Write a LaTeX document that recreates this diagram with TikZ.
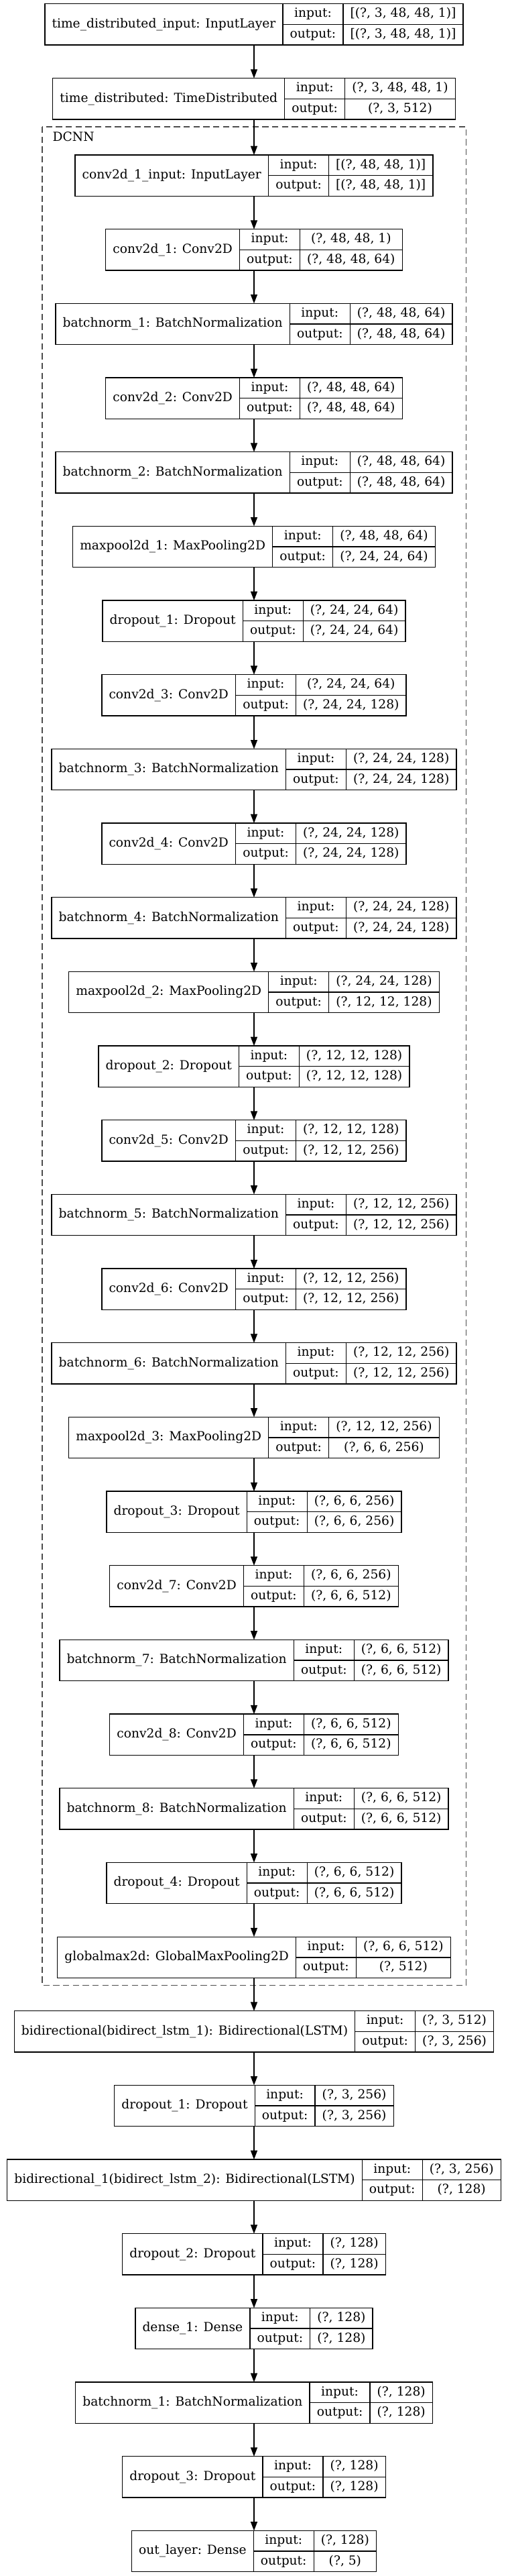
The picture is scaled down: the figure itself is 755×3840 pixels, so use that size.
\documentclass[tikz,border=0pt]{standalone}
\usepackage{fontspec}
\setmainfont{DejaVu Serif}
\usepackage{tikz}
\usetikzlibrary{arrows.meta}

\newcommand{\recfont}{\fontsize{14}{16.8}\selectfont}
\newlength{\labw}
\newlength{\keyw}
\newlength{\shpw}
\newlength{\tmpw}

% one keras layer: name, centre y, layer text, input shape, output shape
\newcommand{\layer}[5]{%
  \pgfinterruptpicture
    \settowidth{\labw}{\recfont #3}%
    \settowidth{\shpw}{\recfont #4}%
    \settowidth{\tmpw}{\recfont #5}%
    \ifdim\tmpw>\shpw\setlength{\shpw}{\tmpw}\fi
    \settowidth{\keyw}{\recfont output:}%
    \addtolength{\labw}{16pt}%
    \addtolength{\keyw}{16pt}%
    \addtolength{\shpw}{16pt}%
    \setlength{\tmpw}{\dimexpr\labw+\keyw+\shpw\relax}%
    \global\labw=\labw \global\keyw=\keyw
    \global\shpw=\shpw \global\tmpw=\tmpw
  \endpgfinterruptpicture
  \node[record, minimum width=\tmpw] (#1) at (379, #2) {};
  \node[field, minimum width=\labw, minimum height=46pt, anchor=west] (#1-l) at (#1.west) {#3};
  \node[field, minimum width=\keyw, anchor=north west] (#1-ik) at (#1-l.north east) {input:};
  \node[field, minimum width=\keyw, anchor=north] (#1-ok) at (#1-ik.south) {output:};
  \node[field, minimum width=\shpw, anchor=north west] (#1-iv) at (#1-ik.north east) {#4};
  \node[field, minimum width=\shpw, anchor=north] (#1-ov) at (#1-iv.south) {#5};
}

\begin{document}
\begin{tikzpicture}[x=0.75pt, y=-0.75pt, line width=1pt, font=\recfont,
  record/.style={rectangle, inner sep=0pt, outer sep=0pt, minimum height=46pt},
  field/.style={draw, rectangle, inner sep=0pt, outer sep=0pt, minimum height=23pt,
                text height=10.5pt, text depth=3.3pt},
  edge/.style={-{Triangle[length=10pt, width=7.5pt]}},
  cluster/.style={draw=black!70, dash pattern=on 7pt off 4pt}]

\useasboundingbox (0, 0) rectangle (755, 3840);

% draw DCNN cluster
\draw[cluster] (63, 189) rectangle (695.5, 2959.3);
\node[anchor=base west] (dcnn) at (73.6, 210) {DCNN};

% draw input layers
\layer{inlayer}{36.3}{time\_distributed\_input: InputLayer}{[(?, 3, 48, 48, 1)]}{[(?, 3, 48, 48, 1)]}
\layer{tdist}{147.3}{time\_distributed: TimeDistributed}{(?, 3, 48, 48, 1)}{(?, 3, 512)}

% draw DCNN layers
\layer{cin}{261.7}{conv2d\_1\_input: InputLayer}{[(?, 48, 48, 1)]}{[(?, 48, 48, 1)]}
\layer{conva}{372.4}{conv2d\_1: Conv2D}{(?, 48, 48, 1)}{(?, 48, 48, 64)}
\layer{bna}{483.0}{batchnorm\_1: BatchNormalization}{(?, 48, 48, 64)}{(?, 48, 48, 64)}
\layer{convb}{593.7}{conv2d\_2: Conv2D}{(?, 48, 48, 64)}{(?, 48, 48, 64)}
\layer{bnb}{704.4}{batchnorm\_2: BatchNormalization}{(?, 48, 48, 64)}{(?, 48, 48, 64)}
\layer{poola}{815.1}{maxpool2d\_1: MaxPooling2D}{(?, 48, 48, 64)}{(?, 24, 24, 64)}
\layer{dropa}{925.7}{dropout\_1: Dropout}{(?, 24, 24, 64)}{(?, 24, 24, 64)}
\layer{convc}{1036.4}{conv2d\_3: Conv2D}{(?, 24, 24, 64)}{(?, 24, 24, 128)}
\layer{bnc}{1147.1}{batchnorm\_3: BatchNormalization}{(?, 24, 24, 128)}{(?, 24, 24, 128)}
\layer{convd}{1257.7}{conv2d\_4: Conv2D}{(?, 24, 24, 128)}{(?, 24, 24, 128)}
\layer{bnd}{1368.4}{batchnorm\_4: BatchNormalization}{(?, 24, 24, 128)}{(?, 24, 24, 128)}
\layer{poolb}{1479.1}{maxpool2d\_2: MaxPooling2D}{(?, 24, 24, 128)}{(?, 12, 12, 128)}
\layer{dropb}{1589.7}{dropout\_2: Dropout}{(?, 12, 12, 128)}{(?, 12, 12, 128)}
\layer{conve}{1700.4}{conv2d\_5: Conv2D}{(?, 12, 12, 128)}{(?, 12, 12, 256)}
\layer{bne}{1811.1}{batchnorm\_5: BatchNormalization}{(?, 12, 12, 256)}{(?, 12, 12, 256)}
\layer{convf}{1921.8}{conv2d\_6: Conv2D}{(?, 12, 12, 256)}{(?, 12, 12, 256)}
\layer{bnf}{2032.4}{batchnorm\_6: BatchNormalization}{(?, 12, 12, 256)}{(?, 12, 12, 256)}
\layer{poolc}{2143.1}{maxpool2d\_3: MaxPooling2D}{(?, 12, 12, 256)}{(?, 6, 6, 256)}
\layer{dropc}{2253.8}{dropout\_3: Dropout}{(?, 6, 6, 256)}{(?, 6, 6, 256)}
\layer{convg}{2364.4}{conv2d\_7: Conv2D}{(?, 6, 6, 256)}{(?, 6, 6, 512)}
\layer{bng}{2475.1}{batchnorm\_7: BatchNormalization}{(?, 6, 6, 512)}{(?, 6, 6, 512)}
\layer{convh}{2585.8}{conv2d\_8: Conv2D}{(?, 6, 6, 512)}{(?, 6, 6, 512)}
\layer{bnh}{2696.4}{batchnorm\_8: BatchNormalization}{(?, 6, 6, 512)}{(?, 6, 6, 512)}
\layer{dropd}{2807.1}{dropout\_4: Dropout}{(?, 6, 6, 512)}{(?, 6, 6, 512)}
\layer{gpool}{2917.8}{globalmax2d: GlobalMaxPooling2D}{(?, 6, 6, 512)}{(?, 512)}

% draw recurrent head
\layer{lstma}{3028.4}{bidirectional(bidirect\_lstm\_1): Bidirectional(LSTM)}{(?, 3, 512)}{(?, 3, 256)}
\layer{hdropa}{3139.0}{dropout\_1: Dropout}{(?, 3, 256)}{(?, 3, 256)}
\layer{lstmb}{3249.7}{bidirectional\_1(bidirect\_lstm\_2): Bidirectional(LSTM)}{(?, 3, 256)}{(?, 128)}
\layer{hdropb}{3360.4}{dropout\_2: Dropout}{(?, 128)}{(?, 128)}
\layer{dense}{3471.1}{dense\_1: Dense}{(?, 128)}{(?, 128)}
\layer{hbn}{3581.7}{batchnorm\_1: BatchNormalization}{(?, 128)}{(?, 128)}
\layer{hdropc}{3692.4}{dropout\_3: Dropout}{(?, 128)}{(?, 128)}
\layer{outlayer}{3803.1}{out\_layer: Dense}{(?, 128)}{(?, 5)}

% draw connectors
\draw[edge] (inlayer) -- (tdist);
\draw[edge] (tdist) -- (cin);
\draw[edge] (cin) -- (conva);
\draw[edge] (conva) -- (bna);
\draw[edge] (bna) -- (convb);
\draw[edge] (convb) -- (bnb);
\draw[edge] (bnb) -- (poola);
\draw[edge] (poola) -- (dropa);
\draw[edge] (dropa) -- (convc);
\draw[edge] (convc) -- (bnc);
\draw[edge] (bnc) -- (convd);
\draw[edge] (convd) -- (bnd);
\draw[edge] (bnd) -- (poolb);
\draw[edge] (poolb) -- (dropb);
\draw[edge] (dropb) -- (conve);
\draw[edge] (conve) -- (bne);
\draw[edge] (bne) -- (convf);
\draw[edge] (convf) -- (bnf);
\draw[edge] (bnf) -- (poolc);
\draw[edge] (poolc) -- (dropc);
\draw[edge] (dropc) -- (convg);
\draw[edge] (convg) -- (bng);
\draw[edge] (bng) -- (convh);
\draw[edge] (convh) -- (bnh);
\draw[edge] (bnh) -- (dropd);
\draw[edge] (dropd) -- (gpool);
\draw[edge] (gpool) -- (lstma);
\draw[edge] (lstma) -- (hdropa);
\draw[edge] (hdropa) -- (lstmb);
\draw[edge] (lstmb) -- (hdropb);
\draw[edge] (hdropb) -- (dense);
\draw[edge] (dense) -- (hbn);
\draw[edge] (hbn) -- (hdropc);
\draw[edge] (hdropc) -- (outlayer);

\end{tikzpicture}
\end{document}
